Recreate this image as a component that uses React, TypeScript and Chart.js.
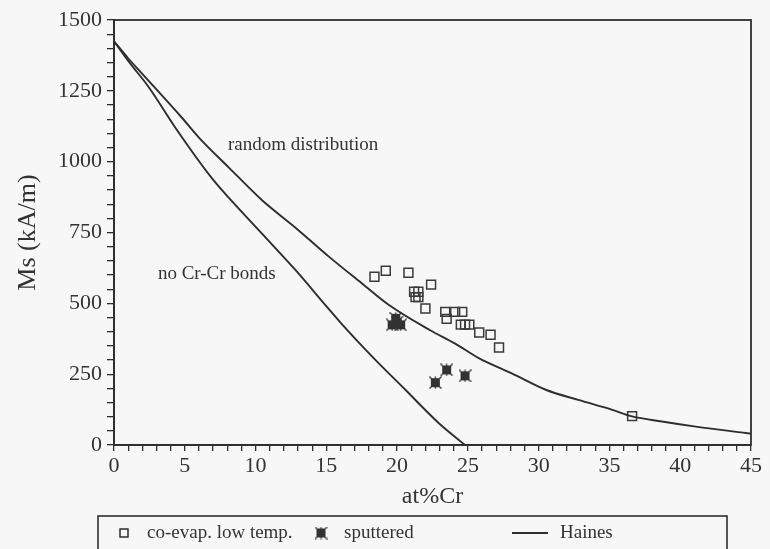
import React, { useEffect, useRef } from "react";
import { Chart, registerables } from "chart.js";

Chart.register(...registerables);

// ---- data ----
const coEvapX = [18.4, 19.2, 20.8, 22.4, 21.2, 21.5, 21.3, 21.5, 22.0, 23.4, 24.1, 24.6, 23.5, 24.5, 24.8, 25.1, 25.8, 26.6, 27.2, 36.6];
const coEvapY = [594, 615, 608, 566, 541, 541, 522, 522, 482, 470, 470, 470, 445, 425, 425, 425, 397, 389, 344, 102];

const sputX = [19.65, 20.25, 19.9, 20.0, 23.5, 22.7, 24.8];
const sputY = [424, 424, 447, 434, 265, 220, 244];

const randomX = [0, 1, 2, 4.8, 6, 8.1, 10.5, 12.8, 15.2, 17.5, 19.4, 22.3, 24.1, 25.8, 28.1, 30.5, 32.8, 35.2, 36.6, 38.7, 41.1, 45];
const randomY = [1425, 1365, 1310, 1155, 1085, 980, 862, 768, 664, 571, 495, 406, 358, 306, 253, 195, 159, 124, 101, 83, 65, 40];

const noCrCrX = [0, 1.06, 2.47, 4.36, 6.94, 8.12, 10.47, 12.83, 15.0, 16.0, 18.24, 20.6, 22.95, 24.8];
const noCrCrY = [1425, 1352, 1262, 1118, 940, 872, 745, 617, 490, 432, 312, 194, 77, 0];

const xMin = 0, xMax = 45, xMinorStep = 1, xLabelStep = 5;
const yMin = 0, yMax = 1500, yMinorStep = 50, yLabelStep = 250;

const annotations = [
  { text: "random distribution", x: 8.05, y: 1059 },
  { text: "no Cr-Cr bonds", x: 3.1, y: 605 },
];

const legendLabels = ["co-evap. low temp.", "sputtered", "Haines"];

const SERIF = "'Liberation Serif', 'Times New Roman', serif";
const INK = "#2e2e2e";

function zip(xs: number[], ys: number[]) {
  return xs.map((x, i) => ({ x, y: ys[i] }));
}

function makeStarMarker(): HTMLCanvasElement {
  const c = document.createElement("canvas");
  c.width = 13;
  c.height = 13;
  const g = c.getContext("2d")!;
  g.fillStyle = "#333";
  g.strokeStyle = "#333";
  g.fillRect(2, 2, 9, 9);
  g.lineWidth = 1.4;
  g.beginPath();
  g.moveTo(0.5, 0.5); g.lineTo(12.5, 12.5);
  g.moveTo(12.5, 0.5); g.lineTo(0.5, 12.5);
  g.moveTo(6.5, 0.5); g.lineTo(6.5, 12.5);
  g.stroke();
  return c;
}

export default function App() {
  const ref = useRef<HTMLCanvasElement | null>(null);

  useEffect(() => {
    document.body.style.margin = "0";
    document.body.style.background = "#f7f7f7";
    const canvas = ref.current!;
    const star = makeStarMarker();

    const frame = {
      id: "frame",
      afterDraw(chart: any) {
        const { ctx, chartArea: a } = chart;
        ctx.save();
        ctx.strokeStyle = INK;
        ctx.lineWidth = 1.8;
        ctx.strokeRect(a.left, a.top, a.right - a.left, a.bottom - a.top);
        // annotations
        ctx.fillStyle = "#333";
        ctx.font = `19px ${SERIF}`;
        ctx.textBaseline = "middle";
        ctx.textAlign = "left";
        const xs = chart.scales.x, ys = chart.scales.y;
        for (const an of annotations) {
          ctx.fillText(an.text, xs.getPixelForValue(an.x), ys.getPixelForValue(an.y));
        }
        // legend box
        const boxTop = 516;
        ctx.lineWidth = 1.6;
        ctx.strokeRect(98, boxTop, 629, 60);
        const ty = 533;
        ctx.font = `19px ${SERIF}`;
        // item 1: open square
        ctx.lineWidth = 1.5;
        ctx.strokeRect(120, ty - 4, 8, 8);
        ctx.fillText(legendLabels[0], 147, ty);
        // item 2: star
        ctx.drawImage(star, 321 - 6.5, ty - 6.5);
        ctx.fillText(legendLabels[1], 344, ty);
        // item 3: line
        ctx.lineWidth = 1.8;
        ctx.beginPath();
        ctx.moveTo(512, ty);
        ctx.lineTo(548, ty);
        ctx.stroke();
        ctx.fillText(legendLabels[2], 560, ty);
        ctx.restore();
      },
    };

    const chart = new Chart(canvas, {
      type: "scatter",
      data: {
        datasets: [
          {
            label: "random distribution",
            data: zip(randomX, randomY),
            showLine: true,
            borderColor: INK,
            borderWidth: 1.9,
            pointRadius: 0,
            cubicInterpolationMode: "monotone",
          },
          {
            label: "no Cr-Cr bonds",
            data: zip(noCrCrX, noCrCrY),
            showLine: true,
            borderColor: INK,
            borderWidth: 1.9,
            pointRadius: 0,
            cubicInterpolationMode: "monotone",
          },
          {
            label: legendLabels[0],
            data: zip(coEvapX, coEvapY),
            pointStyle: "rect",
            pointRadius: 6.3,
            borderColor: "#3a3a3a",
            borderWidth: 1.5,
            backgroundColor: "rgba(0,0,0,0)",
          },
          {
            label: legendLabels[1],
            data: zip(sputX, sputY),
            pointStyle: star as any,
            pointRadius: 6,
          },
        ],
      },
      options: {
        animation: false,
        responsive: false,
        devicePixelRatio: 1,
        layout: { padding: { top: 20, right: 19, left: 0, bottom: 0 } },
        plugins: {
          legend: { display: false },
          tooltip: { enabled: false },
        },
        scales: {
          x: {
            type: "linear",
            min: xMin,
            max: xMax,
            afterFit: (s: any) => { s.height = 104; },
            border: { display: true, color: INK, width: 1.8 },
            grid: {
              drawOnChartArea: false,
              drawTicks: true,
              tickLength: 6,
              tickColor: INK,
              lineWidth: 1.3,
            },
            ticks: {
              stepSize: xMinorStep,
              autoSkip: false,
              maxRotation: 0,
              padding: 2,
              color: "#333",
              font: { family: SERIF, size: 22 },
              callback: (v: any) => (Number(v) % xLabelStep === 0 ? String(v) : ""),
            },
            title: {
              display: true,
              text: "at%Cr",
              color: "#333",
              font: { family: SERIF, size: 24 },
              padding: { top: 0, bottom: 38 },
            },
          },
          y: {
            type: "linear",
            min: yMin,
            max: yMax,
            afterFit: (s: any) => { s.width = 114; },
            border: { display: true, color: INK, width: 1.8 },
            grid: {
              drawOnChartArea: false,
              drawTicks: true,
              tickLength: 7,
              tickColor: INK,
              lineWidth: 1.3,
            },
            ticks: {
              stepSize: yMinorStep,
              maxTicksLimit: 100,
              autoSkip: false,
              padding: 5,
              color: "#333",
              font: { family: SERIF, size: 22 },
              callback: (v: any) => (Number(v) % yLabelStep === 0 ? String(v) : ""),
            },
            title: {
              display: true,
              text: "Ms (kA/m)",
              color: "#333",
              font: { family: SERIF, size: 26 },
              padding: { top: 13, bottom: 0 },
            },
          },
        },
      },
      plugins: [frame],
    } as any);

    return () => chart.destroy();
  }, []);

  return (
    <div style={{ width: 770, height: 549, position: "relative" }}>
      <canvas ref={ref} width={770} height={549} style={{ display: "block" }} />
    </div>
  );
}
